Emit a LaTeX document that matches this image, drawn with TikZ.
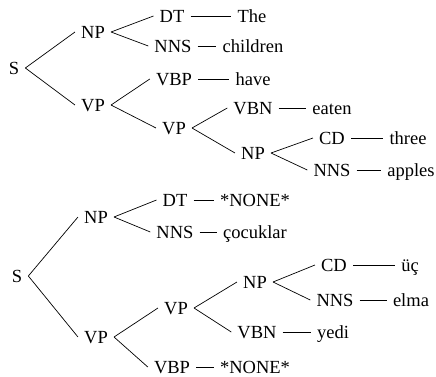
\documentclass[tikz,border=0pt]{standalone}
\usepackage{fontspec}
\setmainfont{Liberation Serif}
\begin{document}
\begin{tikzpicture}[x=1pt,y=-1pt,
  tn/.style={inner xsep=6pt,inner ysep=0pt,text height=12.2pt,text depth=0pt,font=\fontsize{18.5}{22}\selectfont},
  br/.style={line width=0.7pt},
  lx/.style={line width=0.7pt}]
\useasboundingbox (0,0) rectangle (436,376);
% top tree
\node[tn] (s1) at (14,68) {S};
\node[tn] (np1) at (93,32) {NP};
\node[tn] (vp1) at (93,105) {VP};
\node[tn] (dt1) at (172,16) {DT};
\node[tn] (w1) at (252,16) {The};
\node[tn] (nns1) at (173,46) {NNS};
\node[tn] (w2) at (253,46) {children};
\node[tn] (vbp1) at (174,79) {VBP};
\node[tn] (w3) at (253,79) {have};
\node[tn] (vp2) at (174,128) {VP};
\node[tn] (vbn1) at (253,108) {VBN};
\node[tn] (w4) at (332,108) {eaten};
\node[tn] (np2) at (253,153) {NP};
\node[tn] (cd1) at (332,138) {CD};
\node[tn] (w5) at (408,138) {three};
\node[tn] (nns2) at (332,170) {NNS};
\node[tn] (w6) at (411,170) {apples};
\draw[br] (s1.east) -- (np1.west);
\draw[br] (s1.east) -- (vp1.west);
\draw[br] (np1.east) -- (dt1.west);
\draw[br] (np1.east) -- (nns1.west);
\draw[br] (vp1.east) -- (vbp1.west);
\draw[br] (vp1.east) -- (vp2.west);
\draw[br] (vp2.east) -- (vbn1.west);
\draw[br] (vp2.east) -- (np2.west);
\draw[br] (np2.east) -- (cd1.west);
\draw[br] (np2.east) -- (nns2.west);
\draw[lx] (dt1.east) -- (w1.west);
\draw[lx] (nns1.east) -- (w2.west);
\draw[lx] (vbp1.east) -- (w3.west);
\draw[lx] (vbn1.east) -- (w4.west);
\draw[lx] (cd1.east) -- (w5.west);
\draw[lx] (nns2.east) -- (w6.west);
% bottom tree
\node[tn] (s2) at (17,276) {S};
\node[tn] (np3) at (96,217) {NP};
\node[tn] (vp3) at (96,337) {VP};
\node[tn] (dt2) at (175,200) {DT};
\node[tn] (u1) at (255,200) {*NONE*};
\node[tn] (nns3) at (175,232) {NNS};
\node[tn] (u2) at (255,232) {çocuklar};
\node[tn] (vp4) at (176,308) {VP};
\node[tn] (vbp2) at (172,367) {VBP};
\node[tn] (u3) at (255,367) {*NONE*};
\node[tn] (np4) at (255,282) {NP};
\node[tn] (vbn2) at (257,332) {VBN};
\node[tn] (u4) at (333,332) {yedi};
\node[tn] (cd2) at (334,265) {CD};
\node[tn] (u5) at (410,265) {üç};
\node[tn] (nns4) at (335,300) {NNS};
\node[tn] (u6) at (411,300) {elma};
\draw[br] (s2.east) -- (np3.west);
\draw[br] (s2.east) -- (vp3.west);
\draw[br] (np3.east) -- (dt2.west);
\draw[br] (np3.east) -- (nns3.west);
\draw[br] (vp3.east) -- (vp4.west);
\draw[br] (vp3.east) -- (vbp2.west);
\draw[br] (vp4.east) -- (np4.west);
\draw[br] (vp4.east) -- (vbn2.west);
\draw[br] (np4.east) -- (cd2.west);
\draw[br] (np4.east) -- (nns4.west);
\draw[lx] (dt2.east) -- (u1.west);
\draw[lx] (nns3.east) -- (u2.west);
\draw[lx] (vbp2.east) -- (u3.west);
\draw[lx] (vbn2.east) -- (u4.west);
\draw[lx] (cd2.east) -- (u5.west);
\draw[lx] (nns4.east) -- (u6.west);
\end{tikzpicture}
\end{document}
